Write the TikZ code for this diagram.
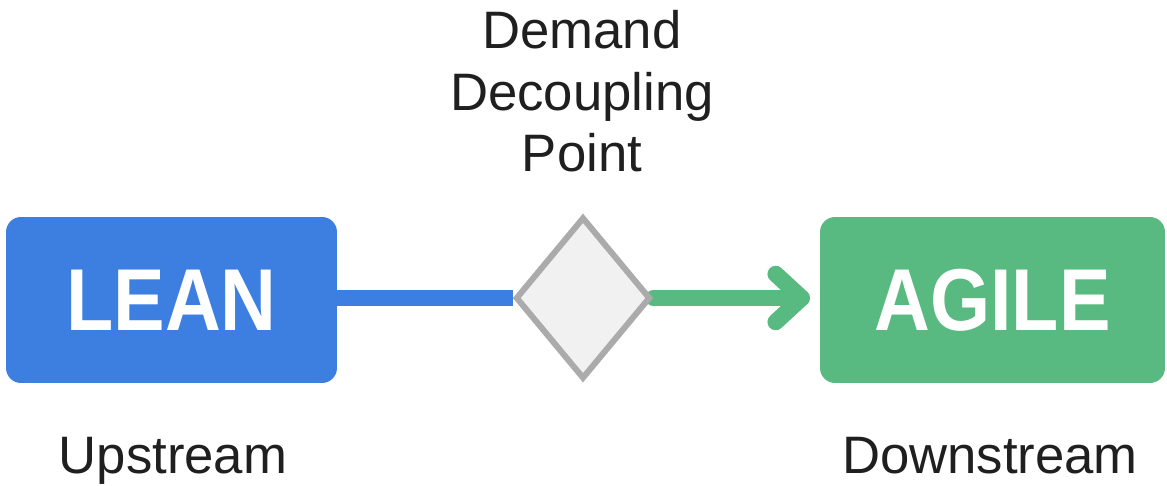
\documentclass[tikz,border=0pt]{standalone}
\usepackage{fontspec}
\setmainfont{Liberation Sans}
\newfontfamily\boxfont[FakeStretch=0.88]{Liberation Sans}
\usetikzlibrary{shapes.geometric,backgrounds,calc}

\definecolor{leanblue}{HTML}{3D7FE0}
\definecolor{agilegreen}{HTML}{58BA80}
\definecolor{dcpgray}{HTML}{ABABAB}
\definecolor{dcpfill}{HTML}{F1F1F1}
\definecolor{labeltext}{HTML}{1F1F1F}

\tikzset{
  flowbox/.style={rectangle, rounded corners=0.3cm, inner sep=0pt,
    minimum height=3.32cm, text=white,
    font=\boxfont\bfseries\fontsize{50}{60}\selectfont},
  dcpnode/.style={diamond, draw=dcpgray, fill=dcpfill, line width=0.12cm,
    inner sep=0pt, minimum width=2.7cm, minimum height=3.24cm},
  flowline/.style={line width=0.33cm, line cap=round, line join=round},
  steptext/.style={text=labeltext, inner sep=0pt,
    font=\fontsize{30}{35}\selectfont}
}

\begin{document}
\begin{tikzpicture}[x=0.02cm, y=-0.02cm]
    \useasboundingbox (0,0) rectangle (1167,486);
    % the two boxes
    \node[flowbox, fill=leanblue, minimum width=6.62cm] (lean) at (171.5,300) {LEAN};
    \node[flowbox, fill=agilegreen, minimum width=6.9cm] (agile) at (992.5,300) {AGILE};
    % decoupling point
    \node[dcpnode] (dcp) at (583,298) {};
    \node[steptext, align=center, anchor=north] (dcplabel) at (582,10)
        {Demand\\Decoupling\\Point};

    % connectors behind the diamond
    \begin{scope}[on background layer]
        \draw[flowline, leanblue, line cap=butt] (lean.east |- dcp) -- (dcp.west);
        \coordinate (tip) at ([xshift=-0.36cm]agile.west |- dcp);
        \draw[flowline, agilegreen] (dcp.east) -- (tip);
        \draw[flowline, agilegreen] ($(tip)+(-26,-24)$) -- (tip) -- ($(tip)+(-26,24)$);
    \end{scope}

    % stream labels
    \node[steptext, anchor=base] (up) at (173,473) {Upstream};
    \node[steptext, anchor=base] (down) at (990,473) {Downstream};
\end{tikzpicture}
\end{document}
